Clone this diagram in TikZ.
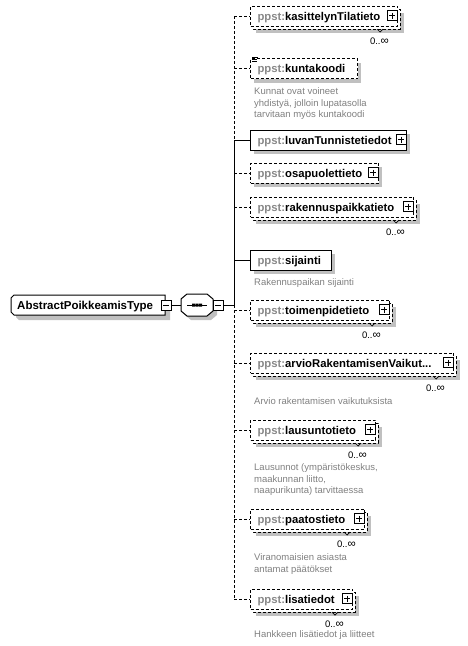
\documentclass[tikz,border=0pt]{standalone}
\usepackage{fontspec}
\setmainfont{Liberation Sans}
\definecolor{shadowc}{RGB}{192,192,192}
\definecolor{nsgray}{RGB}{136,136,136}
\definecolor{descgray}{RGB}{128,128,128}
\tikzset{
  conn/.style={line width=1pt},
  dconn/.style={line width=1pt, dash pattern=on 3pt off 2pt},
  elbox/.style={draw, line width=1pt, fill=white, rectangle, anchor=west, minimum height=20pt, inner xsep=7pt, inner ysep=0pt, text height=8pt, text depth=0pt, font=\fontsize{11.3}{13}\selectfont\bfseries},
  optbox/.style={elbox, dash pattern=on 3pt off 2pt},
  desc/.style={anchor=base west, inner sep=0pt, font=\fontsize{9.5}{11.5}\selectfont, text=descgray},
  mult/.style={anchor=base east, inner sep=0pt, font=\fontsize{9.5}{11}\selectfont},
  pmbox/.style={draw, line width=1pt, fill=white, minimum width=10pt, minimum height=10pt, inner sep=0pt},
  sign/.style={line width=1pt},
}
\newcommand\plusmark[2]{%
  \draw[line width=1pt, fill=white] (#1-10,#2-5.5) rectangle (#1,#2+4.5);
  \draw[sign] (#1-8,#2-0.5) -- (#1-2,#2-0.5) (#1-5,#2-3.5) -- (#1-5,#2+2.5);
}
\newcommand\oneel[5]{%
  \pgfmathsetmacro\elw{#4-250}
  \pgfmathsetmacro\eltw{#4-264}
  \fill[shadowc] (254,#3-6) rectangle (#4+4,#3+14);
  \node[#5, minimum width=\elw pt] (#1) at (250,#3) {\makebox[\eltw pt][l]{\textcolor{nsgray}{ppst:}#2}};
}
\newcommand\multiel[4]{%
  \pgfmathsetmacro\elw{#4-250}
  \pgfmathsetmacro\eltw{#4-264}
  \fill[shadowc] (256,#3-3) rectangle (#4+7,#3+17);
  \draw[dconn, fill=white] (253,#3-7) rectangle (#4+3,#3+13);
  \node[optbox, minimum width=\elw pt] (#1) at (250,#3) {\makebox[\eltw pt][l]{\textcolor{nsgray}{ppst:}#2}};
  \plusmark{#4}{#3}
  \draw[line width=0.7pt] (#4-20,#3+13) -- (#4-17,#3+16) -- (#4-14,#3+13);
  \node[mult] (#1-m) at (#4-8,#3+28) {0..{\fontsize{11.5}{11}\selectfont ∞}};
}
\begin{document}
\begin{tikzpicture}[x=1pt,y=-1pt]
\useasboundingbox (0,0) rectangle (468,646);
% main type
\fill[shadowc] (19,300) -- (170,300) -- (170,320) -- (19,320) -- (16,317) -- (16,303) -- cycle;
\draw[line width=1pt, fill=white] (14,295) -- (165,295) -- (165,315) -- (14,315) -- (11,312) -- (11,298) -- cycle;
\node[anchor=base west, inner sep=0pt, font=\fontsize{11.5}{13}\selectfont\bfseries] (main) at (17,309) {AbstractPoikkeamisType};
\node[pmbox] (mainpm) at (166,305) {};
\draw[sign] (163,305) -- (169,305);
% sequence compositor
\fill[shadowc] (185,303) -- (191,298) -- (211,298) -- (217,303) -- (217,315) -- (211,320) -- (191,320) -- (185,315) -- cycle;
\draw[line width=1pt, fill=white] (181,299) -- (187,294) -- (207,294) -- (213,299) -- (213,311) -- (207,316) -- (187,316) -- (181,311) -- cycle;
\node[minimum width=32pt, minimum height=22pt, inner sep=0pt] (seq) at (197,305) {};
\draw[line width=1pt] (187,305) -- (207,305);
\fill (192,303.5) rectangle (195,306.5) (195.5,303.5) rectangle (198.5,306.5) (199,303.5) rectangle (202,306.5);
\node[pmbox] (seqpm) at (218,305) {};
\draw[sign] (215,305) -- (221,305);
\coordinate (spine) at (234,305);
\draw[conn] (mainpm.east) -- (seq.west);
\draw[conn] (seqpm.east) -- (spine);
% elements
\multiel{e1}{kasittelynTilatieto}{16}{397}
\oneel{e2}{kuntakoodi}{68.5}{357}{optbox}
\draw[line width=0.8pt] (252,57.5) -- (258,57.5) (252,59.5) -- (257,59.5) (252,61.5) -- (257,61.5);
\oneel{e3}{luvanTunnistetiedot}{140}{406}{elbox}
\plusmark{406}{140}
\oneel{e4}{osapuolettieto}{173}{378}{optbox}
\plusmark{378}{173}
\multiel{e5}{rakennuspaikkatieto}{207}{413}
\oneel{e6}{sijainti}{260}{331}{elbox}
\multiel{e7}{toimenpidetieto}{310}{389}
\multiel{e8}{arvioRakentamisenVaikut...}{363}{453}
\multiel{e9}{lausuntotieto}{430}{375}
\multiel{e10}{paatostieto}{519}{364}
\multiel{e11}{lisatiedot}{599}{352}
% spine
\coordinate (j1) at (234,16);
\coordinate (j2) at (234,68.5);
\coordinate (j3) at (234,140);
\coordinate (j4) at (234,173);
\coordinate (j5) at (234,207);
\coordinate (j6) at (234,260);
\coordinate (j7) at (234,310);
\coordinate (j8) at (234,363);
\coordinate (j9) at (234,430);
\coordinate (j10) at (234,519);
\coordinate (j11) at (234,599);
\draw[dconn] (j1) -- (j3);
\draw[conn] (j3) -- (spine);
\draw[dconn] (spine) -- (j11);
\draw[dconn] (j1) -- (e1.west);
\draw[dconn] (j2) -- (e2.west);
\draw[conn] (j3) -- (e3.west);
\draw[dconn] (j4) -- (e4.west);
\draw[dconn] (j5) -- (e5.west);
\draw[conn] (j6) -- (e6.west);
\draw[dconn] (j7) -- (e7.west);
\draw[dconn] (j8) -- (e8.west);
\draw[dconn] (j9) -- (e9.west);
\draw[dconn] (j10) -- (e10.west);
\draw[dconn] (j11) -- (e11.west);
% descriptions
\node[desc] (d2a) at (254,94.5) {Kunnat ovat voineet};
\node[desc] (d2b) at (254,106) {yhdistyä, jolloin lupatasolla};
\node[desc] (d2c) at (254,117.5) {tarvitaan myös kuntakoodi};
\node[desc] (d6) at (254,285.5) {Rakennuspaikan sijainti};
\node[desc] (d8) at (254,404.5) {Arvio rakentamisen vaikutuksista};
\node[desc] (d9a) at (254,470.5) {Lausunnot (ympäristökeskus,};
\node[desc] (d9b) at (254,482) {maakunnan liitto,};
\node[desc] (d9c) at (254,493.5) {naapurikunta) tarvittaessa};
\node[desc] (d10a) at (254,560.5) {Viranomaisien asiasta};
\node[desc] (d10b) at (254,572) {antamat päätökset};
\node[desc] (d11) at (254,637.5) {Hankkeen lisätiedot ja liitteet};
\end{tikzpicture}
\end{document}
